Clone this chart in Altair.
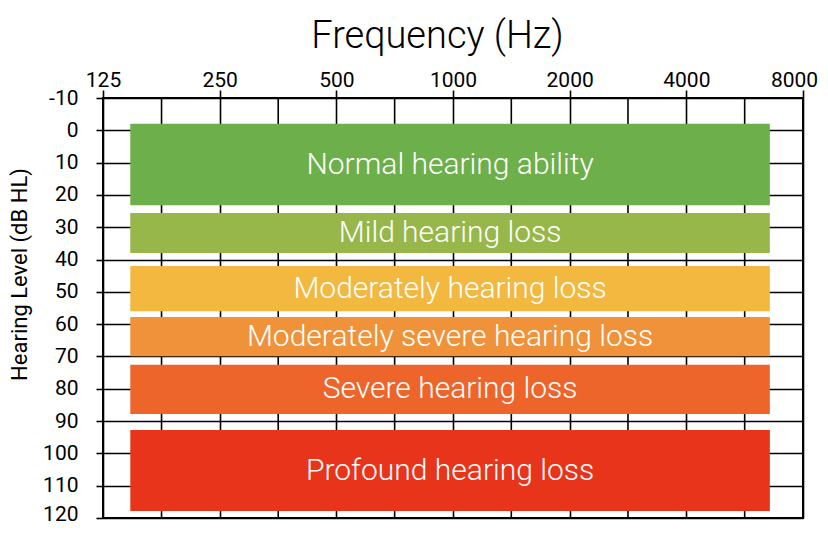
import altair as alt
import pandas as pd

# Data
categories = ["Normal hearing ability", "Mild hearing loss", "Moderately hearing loss",
              "Moderately severe hearing loss", "Severe hearing loss", "Profound hearing loss"]
db_top = [-2, 25.6, 42, 57.8, 72.6, 92.8]
db_bottom = [23.2, 38, 56, 69.9, 87.8, 117.8]
freq_left = [147, 147, 147, 147, 147, 147]
freq_right = [6570, 6570, 6570, 6570, 6570, 6570]
colors = ["#6DAF4A", "#97B74A", "#F2B840", "#F0923A", "#EE652C", "#E9341C"]
octave_ticks = [125, 250, 500, 1000, 2000, 4000, 8000]
half_octaves = [177, 354, 707, 1414, 2828, 5657]
db_ticks = [-10, 0, 10, 20, 30, 40, 50, 60, 70, 80, 90, 100, 110, 120]

FONT = "Roboto"

bands = pd.DataFrame({
    "cat": categories, "y": db_top, "y2": db_bottom,
    "x": freq_left, "x2": freq_right,
})
bands["ymid"] = (bands["y"] + bands["y2"]) / 2
bands["xmid"] = (bands["x"] * bands["x2"]) ** 0.5

xscale = alt.Scale(type="log", base=2, domain=[125, 8000], nice=False)
yscale = alt.Scale(domain=[-10, 120], reverse=True, nice=False, zero=False)

xaxis = alt.Axis(orient="top", values=octave_ticks, title="Frequency (Hz)", grid=True,
                 gridColor="black", gridWidth=1.6, gridOpacity=1,
                 tickColor="black", tickWidth=1.6, tickSize=8,
                 labelFont=FONT, labelFontSize=21, labelColor="black", labelPadding=0,
                 labelOverlap=False, labelFlush=False,
                 labelOffset={"condition": {"test": "datum.value == 8000", "value": -9}, "value": 0},
                 labelExpr="'' + datum.value",
                 titleFont=FONT, titleFontSize=38, titleFontWeight=300, titleColor="black",
                 titlePadding=14, titleX=334, domain=False)
yaxis = alt.Axis(values=db_ticks, title="Hearing Level (dB HL)", grid=True,
                 gridColor="black", gridWidth=1.6, gridOpacity=1,
                 tickColor="black", tickWidth=1.6, tickSize=7,
                 labelFont=FONT, labelFontSize=21, labelColor="black", labelPadding=18,
                 labelOverlap=False, labelExpr="'' + datum.value",
                 labelOffset={"condition": {"test": "datum.value == 120", "value": -4}, "value": 0},
                 titleFont=FONT, titleFontSize=22, titleFontWeight="normal", titleColor="black",
                 titlePadding=11, titleY=176, domain=False)

rules = alt.Chart(pd.DataFrame({"f": half_octaves})).mark_rule(color="black", strokeWidth=1.6).encode(
    x=alt.X("f:Q", scale=xscale, axis=xaxis)
)

rects = alt.Chart(bands).mark_rect().encode(
    x=alt.X("x:Q", scale=xscale, axis=xaxis),
    x2="x2:Q",
    y=alt.Y("y:Q", scale=yscale, axis=yaxis),
    y2="y2:Q",
    color=alt.Color("cat:N", scale=alt.Scale(domain=categories, range=colors), legend=None),
)

texts = alt.Chart(bands).mark_text(color="white", font=FONT, fontSize=30, fontWeight=300).encode(
    x=alt.X("xmid:Q", scale=xscale, axis=xaxis),
    y=alt.Y("ymid:Q", scale=yscale, axis=yaxis),
    text="cat:N",
)

chart = alt.layer(rules, rects, texts).properties(
    width=700, height=420,
    autosize=alt.AutoSizeParams(type="none"),
    padding={"left": 95, "top": 90, "right": 17, "bottom": 8},
).configure_view(stroke="black", strokeWidth=2)

chart.save("out.html", embed_options={"renderer": "svg", "actions": False})
